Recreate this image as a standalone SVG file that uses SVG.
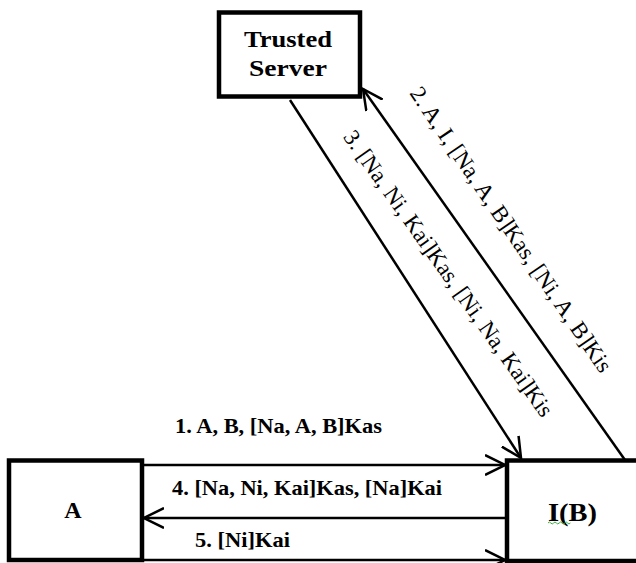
<svg xmlns="http://www.w3.org/2000/svg" width="636" height="563" viewBox="0 0 636 563">
<style>
.box{fill:#fff;stroke:#000;stroke-width:4.5}
.lbl{font-family:"Liberation Serif","Times New Roman",serif;font-size:22px;font-weight:bold;fill:#000}
.node{font-family:"Liberation Serif","Times New Roman",serif;font-weight:bold;fill:#000;text-anchor:middle}
.diag{font-family:"Liberation Serif","Times New Roman",serif;font-size:23px;fill:#000;text-anchor:middle}
.conn{stroke:#000;stroke-width:2.5;fill:none}
</style>
<defs>
<marker id="arr" markerUnits="userSpaceOnUse" viewBox="0 0 22 22" markerWidth="22" markerHeight="22" refX="20" refY="11" orient="auto">
<path d="M0,1 L20,11 L0,21" fill="none" stroke="#000" stroke-width="2.5"/>
</marker>
</defs>
<rect width="636" height="563" fill="#fff"/>
<g id="server">
<rect class="box" x="219" y="12.5" width="141" height="84"/>
<text class="node" x="288" y="47" font-size="24" textLength="88" lengthAdjust="spacingAndGlyphs">Trusted</text>
<text class="node" x="288" y="76" font-size="24" textLength="78" lengthAdjust="spacingAndGlyphs">Server</text>
</g>
<g id="nodeA">
<rect class="box" x="9" y="460.5" width="133" height="99.5"/>
<text class="node" x="73" y="518" font-size="24">A</text>
</g>
<g id="nodeIB">
<rect class="box" x="507" y="460.5" width="140" height="100.5"/>
<text class="node" x="572.5" y="521" font-size="26" textLength="49" lengthAdjust="spacingAndGlyphs">I(B)</text>
<path d="M548,523 q1.4,-2 2.8,0 t2.8,0 t2.8,0 t2.8,0 t2.8,0 t2.8,0 t2.8,0 t2.8,0" fill="none" stroke="#3cb043" stroke-width="1"/>
</g>
<g id="connectors">
<path class="conn" d="M142,465 H505" marker-end="url(#arr)"/>
<path class="conn" d="M505,518 H144" marker-end="url(#arr)"/>
<path class="conn" d="M142,560 H505" marker-end="url(#arr)"/>
<path class="conn" d="M290,100 L521,458" marker-end="url(#arr)"/>
<path class="conn" d="M625,460 L363,89" marker-end="url(#arr)"/>
<text class="lbl" x="175" y="433" textLength="207" lengthAdjust="spacingAndGlyphs">1. A, B, [Na, A, B]Kas</text>
<text class="lbl" x="172" y="495" textLength="270" lengthAdjust="spacingAndGlyphs">4. [Na, Ni, Kai]Kas, [Na]Kai</text>
<text class="lbl" x="195" y="547" textLength="95" lengthAdjust="spacingAndGlyphs">5. [Ni]Kai</text>
<text class="diag" transform="translate(504.7,233.8) rotate(55.7)" x="0" y="0" textLength="340" lengthAdjust="spacingAndGlyphs">2. A, I, [Na, A, B]Kas, [Ni, A, B]Kis</text>
<text class="diag" transform="translate(442.3,277.9) rotate(54.7)" x="0" y="0" textLength="345" lengthAdjust="spacingAndGlyphs">3. [Na, Ni, Kai]Kas, [Ni, Na, Kai]Kis</text>
</g>
</svg>
